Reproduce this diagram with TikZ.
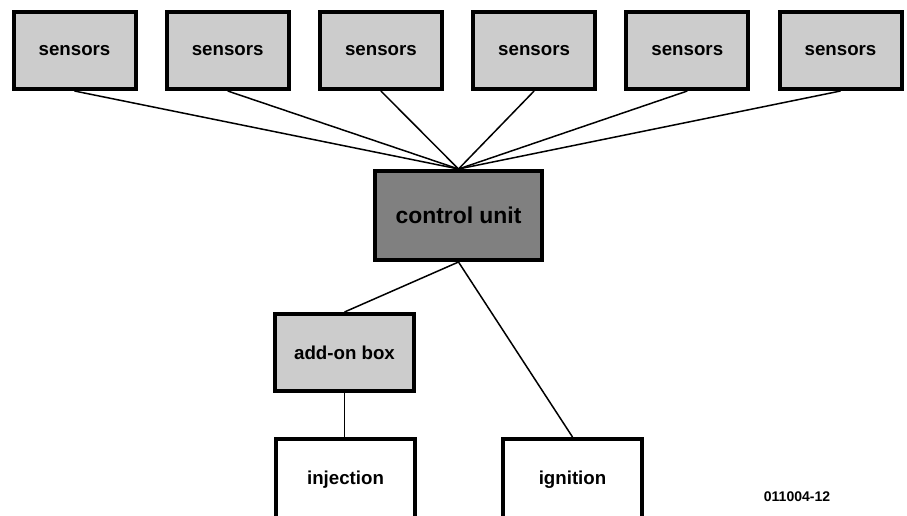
\documentclass[tikz,border=0pt]{standalone}
\usepackage{fontspec}
\setmainfont{Liberation Sans}
\begin{document}
\begin{tikzpicture}[x=1pt,y=-1pt,
  box/.style={draw=black,line width=4pt,inner sep=0pt,minimum width=122pt,minimum height=77pt,font=\fontsize{18.7}{22}\selectfont\bfseries},
  sensorbox/.style={box,fill=lightgray0},
  cubox/.style={box,fill=midgray0,minimum width=167pt,minimum height=89pt,font=\fontsize{22.9}{27}\selectfont\bfseries},
  addbox/.style={box,fill=lightgray0,minimum width=139pt},
  outbox/.style={box,fill=white,minimum width=139pt,minimum height=82pt},
  wire/.style={draw=black,line width=1.5pt}]
\definecolor{lightgray0}{HTML}{CCCCCC}
\definecolor{midgray0}{HTML}{808080}
\clip (0,0) rectangle (907,515);
\fill[white] (0,0) rectangle (907,515);
\node[sensorbox] (s1) at (74.5,50.5) {sensors};
\node[sensorbox] (s2) at (227.7,50.5) {sensors};
\node[sensorbox] (s3) at (380.9,50.5) {sensors};
\node[sensorbox] (s4) at (534.1,50.5) {sensors};
\node[sensorbox] (s5) at (687.3,50.5) {sensors};
\node[sensorbox] (s6) at (840.5,50.5) {sensors};
\node[cubox] (cu) at (458.5,215.5) {control unit};
\node[addbox] (add) at (344.5,352.5) {add-on box};
\node[outbox] (inj) at (345.5,480) {injection};
\node[outbox] (ign) at (572.5,480) {ignition};
\node[font=\fontsize{14}{16}\selectfont\bfseries,inner sep=0pt] (lbl) at (797,497) {011004-12};
\foreach \s in {s1,s2,s3,s4,s5,s6}{
  \draw[wire] (\s.south) -- (cu.north);
}
\draw[wire] (cu.south) -- (add.north);
\draw[wire] (cu.south) -- (ign.north);
\draw[wire] (add.south) -- (add.south |- inj.north);
\end{tikzpicture}
\end{document}
